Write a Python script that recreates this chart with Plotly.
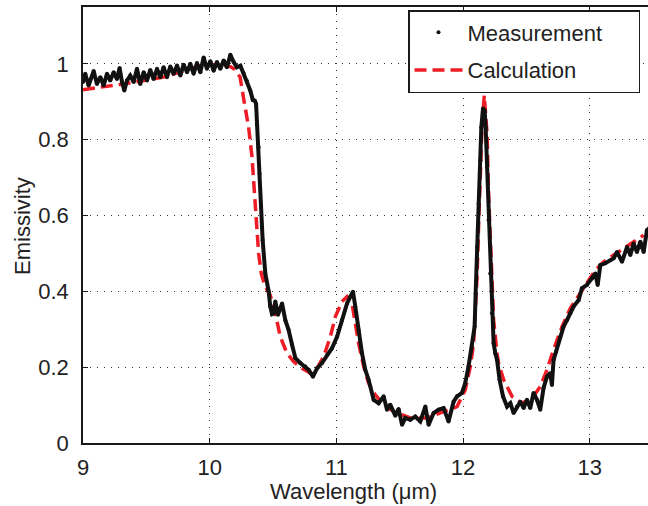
import plotly.graph_objects as go

# Measurement (wavelength in um, emissivity)
meas_x = [9.000, 9.018, 9.044, 9.084, 9.110, 9.137, 9.163, 9.189, 9.215, 9.242,
          9.268, 9.289, 9.308, 9.326, 9.347, 9.373, 9.400, 9.426, 9.452, 9.479,
          9.505, 9.531, 9.557, 9.584, 9.610, 9.636, 9.663, 9.689, 9.715, 9.742,
          9.768, 9.794, 9.821, 9.847, 9.873, 9.900, 9.926, 9.952, 9.978, 10.005,
          10.031, 10.057, 10.084, 10.110, 10.136, 10.163, 10.189, 10.215, 10.242, 10.268,
          10.294, 10.320, 10.340, 10.355, 10.366, 10.373, 10.386, 10.394, 10.405, 10.418,
          10.439, 10.465, 10.478, 10.492, 10.504, 10.518, 10.539, 10.571, 10.597, 10.623,
          10.650, 10.676, 10.715, 10.755, 10.781, 10.815, 10.847, 10.886, 10.926, 10.965,
          11.005, 11.044, 11.084, 11.110, 11.131, 11.149, 11.175, 11.202, 11.228, 11.254,
          11.294, 11.333, 11.373, 11.399, 11.425, 11.465, 11.491, 11.518, 11.544, 11.583,
          11.623, 11.662, 11.702, 11.728, 11.767, 11.807, 11.846, 11.885, 11.925, 11.952,
          11.991, 12.017, 12.043, 12.070, 12.091, 12.099, 12.110, 12.122, 12.136, 12.144,
          12.157, 12.170, 12.178, 12.189, 12.201, 12.214, 12.228, 12.241, 12.254, 12.268,
          12.288, 12.315, 12.347, 12.373, 12.399, 12.425, 12.452, 12.478, 12.504, 12.530,
          12.556, 12.583, 12.609, 12.635, 12.662, 12.688, 12.701, 12.714, 12.735, 12.767,
          12.793, 12.820, 12.846, 12.872, 12.912, 12.938, 12.978, 13.017, 13.044, 13.062,
          13.083, 13.122, 13.162, 13.188, 13.215, 13.254, 13.294, 13.320, 13.346, 13.372,
          13.399, 13.425, 13.451, 13.478]
meas_y = [0.952, 0.974, 0.943, 0.981, 0.947, 0.965, 0.943, 0.974, 0.956, 0.978,
          0.960, 0.989, 0.952, 0.930, 0.956, 0.969, 0.952, 0.987, 0.947, 0.978,
          0.956, 0.984, 0.960, 0.987, 0.965, 0.991, 0.965, 0.993, 0.974, 0.996,
          0.969, 0.998, 0.978, 1.000, 0.974, 1.002, 0.978, 1.017, 0.987, 1.007,
          0.982, 1.005, 0.987, 1.009, 0.991, 1.024, 1.005, 0.991, 0.995, 0.975,
          0.955, 0.930, 0.905, 0.903, 0.895, 0.840, 0.780, 0.710, 0.623, 0.535,
          0.447, 0.400, 0.360, 0.340, 0.342, 0.373, 0.338, 0.368, 0.324, 0.298,
          0.259, 0.224, 0.211, 0.202, 0.193, 0.175, 0.197, 0.211, 0.232, 0.250,
          0.280, 0.324, 0.368, 0.386, 0.399, 0.360, 0.298, 0.237, 0.193, 0.167,
          0.114, 0.105, 0.123, 0.088, 0.101, 0.072, 0.090, 0.048, 0.066, 0.061,
          0.070, 0.057, 0.096, 0.048, 0.079, 0.088, 0.092, 0.057, 0.109, 0.123,
          0.132, 0.158, 0.202, 0.254, 0.307, 0.395, 0.517, 0.632, 0.746, 0.833,
          0.882, 0.877, 0.833, 0.728, 0.588, 0.447, 0.342, 0.263, 0.237, 0.219,
          0.167, 0.123, 0.096, 0.105, 0.079, 0.096, 0.109, 0.092, 0.114, 0.092,
          0.132, 0.114, 0.088, 0.145, 0.175, 0.184, 0.153, 0.219, 0.241, 0.280,
          0.307, 0.324, 0.342, 0.360, 0.377, 0.408, 0.417, 0.434, 0.447, 0.417,
          0.469, 0.474, 0.482, 0.487, 0.504, 0.478, 0.517, 0.496, 0.526, 0.504,
          0.531, 0.504, 0.561, 0.570]

# Calculation
calc_x = [9.000, 9.318, 9.634, 9.926, 10.084, 10.163, 10.200, 10.240, 10.268, 10.307,
          10.334, 10.354, 10.368, 10.386, 10.407, 10.439, 10.478, 10.518, 10.557, 10.610,
          10.662, 10.729, 10.794, 10.847, 10.899, 10.952, 10.991, 11.044, 11.084, 11.123,
          11.149, 11.175, 11.215, 11.254, 11.307, 11.373, 11.451, 11.583, 11.715, 11.846,
          11.952, 12.017, 12.057, 12.083, 12.096, 12.110, 12.122, 12.136, 12.149, 12.167,
          12.189, 12.201, 12.220, 12.241, 12.268, 12.280, 12.320, 12.386, 12.465, 12.544,
          12.609, 12.662, 12.714, 12.781, 12.846, 12.912, 12.978, 13.044, 13.109, 13.188,
          13.267, 13.346, 13.425]
calc_y = [0.932, 0.947, 0.965, 0.995, 0.999, 0.993, 0.985, 0.965, 0.908, 0.833,
          0.754, 0.667, 0.588, 0.500, 0.447, 0.412, 0.390, 0.342, 0.280, 0.237,
          0.215, 0.197, 0.184, 0.197, 0.228, 0.280, 0.333, 0.373, 0.386, 0.368,
          0.316, 0.263, 0.202, 0.158, 0.127, 0.101, 0.083, 0.066, 0.066, 0.083,
          0.096, 0.140, 0.202, 0.263, 0.333, 0.438, 0.570, 0.700, 0.833, 0.917,
          0.816, 0.658, 0.482, 0.324, 0.237, 0.210, 0.167, 0.123, 0.105, 0.118,
          0.149, 0.193, 0.246, 0.307, 0.355, 0.390, 0.425, 0.456, 0.478, 0.496,
          0.513, 0.531, 0.548]

x_ticks = [9, 10, 11, 12, 13]
y_ticks = [0, 0.2, 0.4, 0.6, 0.8, 1]

W, H = 648, 506
ML, MR, MT, MB = 83, 0, 7, 63
PW, PH = W - ML - MR, H - MT - MB

def px_x(p):
    return (p - ML) / PW

def px_y(p):
    return (H - MB - p) / PH

PAD = "\u00a0" * 5

fig = go.Figure()
fig.add_trace(go.Scatter(x=calc_x, y=calc_y, mode="lines", name="Calculation" + PAD,
                         legendgroup="c", legendrank=2,
                         line=dict(color="#ee1c25", width=3.5, dash="12px,6px")))
fig.add_trace(go.Scatter(x=meas_x, y=meas_y, mode="lines", showlegend=False,
                         line=dict(color="#111111", width=4), hoverinfo="skip"))
fig.add_trace(go.Scatter(x=meas_x, y=meas_y, mode="markers", name="Measurement" + PAD,
                         legendgroup="m", legendrank=1,
                         marker=dict(color="#111111", size=4)))

font = dict(family="Liberation Sans, Arial, sans-serif", size=22, color="#222222")
grid = dict(showgrid=True, gridcolor="#333333", gridwidth=1, griddash="1px,6px")

fig.update_layout(
    width=W, height=H,
    margin=dict(l=ML, r=MR, t=MT, b=MB, autoexpand=False),
    paper_bgcolor="white", plot_bgcolor="white",
    font=font,
    showlegend=True,
    legend=dict(x=px_x(640), y=px_y(10),
                xanchor="right", yanchor="top",
                bgcolor="white", bordercolor="#1a1a1a", borderwidth=1.5,
                font=dict(size=22), traceorder="grouped", tracegroupgap=6,
                itemwidth=48),
    annotations=[
        dict(text="Wavelength (\u03bcm)", xref="paper", yref="paper",
             x=px_x(353), y=px_y(491), xanchor="center", yanchor="middle",
             showarrow=False, font=dict(size=22, color="#222222")),
        dict(text="Emissivity", xref="paper", yref="paper", textangle=-90,
             x=px_x(23), y=px_y(226), xanchor="center", yanchor="middle",
             showarrow=False, font=dict(size=22, color="#222222")),
    ],
)
fig.update_xaxes(range=[9, 9 + PW / 126.7], tickvals=x_ticks,
                 ticktext=[str(v) for v in x_ticks], automargin=False,
                 ticks="inside", ticklen=5, tickcolor="#1a1a1a",
                 tickfont=dict(size=22),
                 showline=True, linecolor="#1a1a1a", linewidth=1.5, mirror="ticks",
                 zeroline=False, ticklabelstandoff=4, **grid)
fig.update_yaxes(range=[0, 1.15], tickvals=y_ticks,
                 ticktext=["0", "0.2", "0.4", "0.6", "0.8", "1"], automargin=False,
                 ticks="inside", ticklen=5, tickcolor="#1a1a1a",
                 tickfont=dict(size=22),
                 showline=True, linecolor="#1a1a1a", linewidth=1.5, mirror=False,
                 zeroline=False, ticklabelstandoff=8, **grid)

fig.write_html("out.html", config={"displayModeBar": False},
               post_script="document.body.style.margin='0';document.body.style.overflow='hidden';")
